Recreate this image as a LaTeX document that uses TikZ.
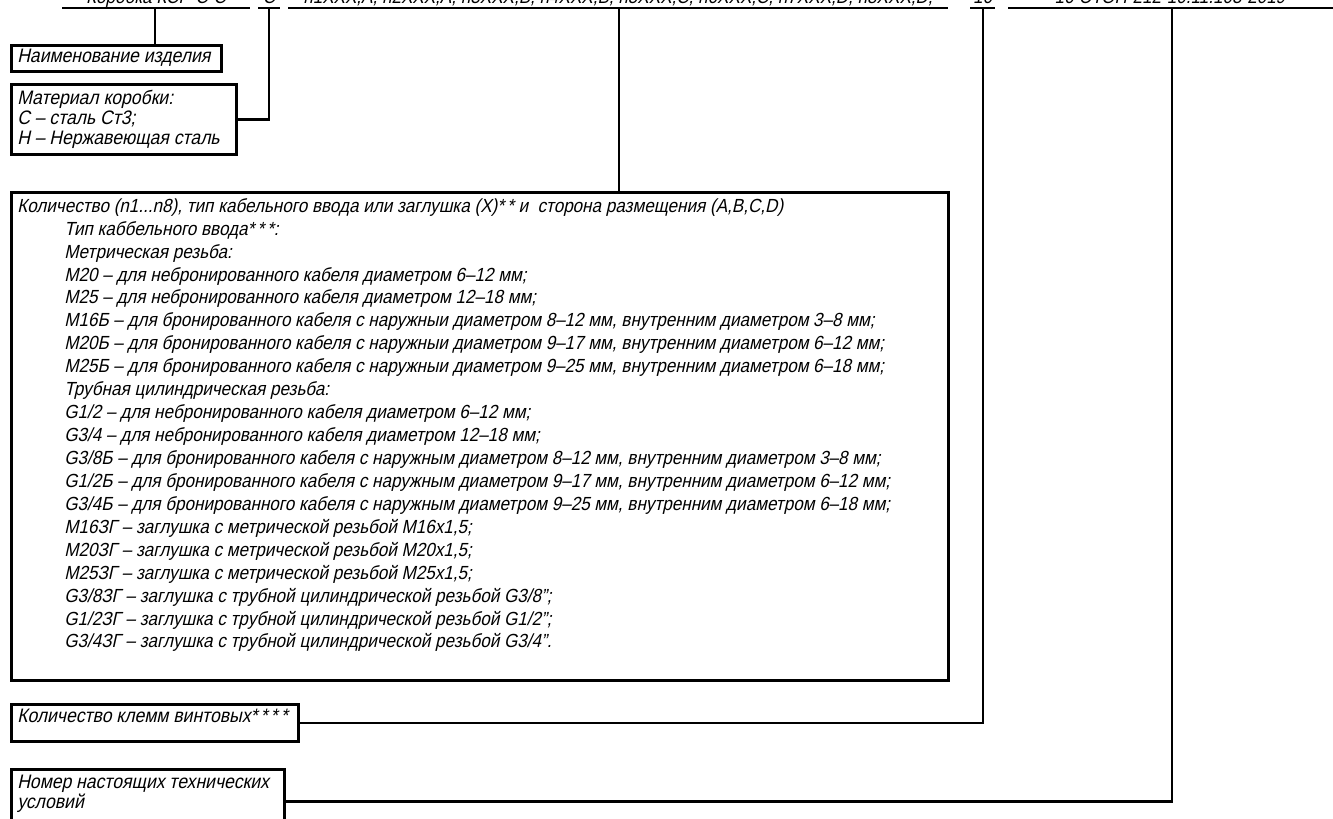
\documentclass[tikz,border=0pt]{standalone}
\usepackage{fontspec}
\setmainfont{Liberation Sans}[FakeSlant=0.22,FakeStretch=0.9]
\usetikzlibrary{positioning}
\newcommand{\indt}{\hspace*{9.4mm}}

\begin{document}
\begin{tikzpicture}[line width=1.5pt,font=\fontsize{10.8}{13.05}\selectfont,
box/.style={draw,line width=1.7pt,anchor=north west,inner sep=0pt},
txt/.style={anchor=north west,align=left,inner sep=0pt},
bigtxt/.style={txt,font=\fontsize{11.1}{11.4}\selectfont},
head/.style={anchor=base,inner sep=0pt}]
\useasboundingbox (0,0) rectangle (26.66,-16.38);
% designation line (cut at the sheet edge)
\node[head] (hname) at (3.12,-0.07) {Коробка КСР-С-С};
\node[head] (hmat) at (5.38,-0.07) {С};
\node[head] (hin) at (12.36,-0.07) {n1XXX,A, n2XXX,A, n3XXX,B, n4XXX,B, n5XXX,C, n6XXX,C, n7XXX,D, n8XXX,D,};
\node[head] (hcl) at (19.65,-0.07) {16};
\node[head] (htu) at (23.4,-0.07) {16-ЭТОН-212-10.11.103-2019};
\coordinate (u1a) at (1.24,-0.16); \coordinate (u1b) at (5,-0.16);
\coordinate (u2a) at (5.16,-0.16); \coordinate (u2b) at (5.6,-0.16);
\coordinate (u3a) at (5.76,-0.16); \coordinate (u3b) at (18.96,-0.16);
\coordinate (u4a) at (19.4,-0.16); \coordinate (u4b) at (19.9,-0.16);
\coordinate (u5a) at (20.16,-0.16); \coordinate (u5b) at (26.8,-0.16);
\draw (u1a)--(u1b); \draw (u2a)--(u2b); \draw (u3a)--(u3b); \draw (u4a)--(u4b); \draw (u5a)--(u5b);
\coordinate (t1) at (3.1,-0.16);
\coordinate (t2) at (5.38,-0.16);
\coordinate (t3) at (12.38,-0.16);
\coordinate (t4) at (19.66,-0.16);
\coordinate (t5) at (23.44,-0.16);
% boxes
\node[box,minimum width=4.2cm,minimum height=.52cm] (name) at (.2,-.88) {};
\node[bigtxt] at ([shift={(.12,-.08)}]name.north west) {Наименование изделия};
\node[box,minimum width=4.5cm,minimum height=1.4cm] (material) at (.2,-1.66) {};
\node[bigtxt] at ([shift={(.12,-.12)}]material.north west) {Материал коробки:\\С – сталь Ст3;\\Н – Нержавеющая сталь};
\node[box,minimum width=18.74cm,minimum height=9.76cm] (inputs) at (.2,-3.82) {};
\node[txt] at ([shift={(.12,-.12)}]inputs.north west) {Количество (n1...n8), тип кабельного ввода или заглушка (X)*\,* и\ \ сторона размещения (A,B,C,D)\\
\indt Тип каббельного ввода*\,*\,*:\\
\indt Метрическая резьба:\\
\indt М20 – для небронированного кабеля диаметром 6–12 мм;\\
\indt М25 – для небронированного кабеля диаметром 12–18 мм;\\
\indt М16Б – для бронированного кабеля с наружныи диаметром 8–12 мм, внутренним диаметром 3–8 мм;\\
\indt М20Б – для бронированного кабеля с наружныи диаметром 9–17 мм, внутренним диаметром 6–12 мм;\\
\indt М25Б – для бронированного кабеля с наружныи диаметром 9–25 мм, внутренним диаметром 6–18 мм;\\
\indt Трубная цилиндрическая резьба:\\
\indt G1/2 – для небронированного кабеля диаметром 6–12 мм;\\
\indt G3/4 – для небронированного кабеля диаметром 12–18 мм;\\
\indt G3/8Б – для бронированного кабеля с наружным диаметром 8–12 мм, внутренним диаметром 3–8 мм;\\
\indt G1/2Б – для бронированного кабеля с наружным диаметром 9–17 мм, внутренним диаметром 6–12 мм;\\
\indt G3/4Б – для бронированного кабеля с наружным диаметром 9–25 мм, внутренним диаметром 6–18 мм;\\
\indt М16ЗГ – заглушка с метрической резьбой М16х1,5;\\
\indt М20ЗГ – заглушка с метрической резьбой М20х1,5;\\
\indt М25ЗГ – заглушка с метрической резьбой М25х1,5;\\
\indt G3/8ЗГ – заглушка с трубной цилиндрической резьбой G3/8";\\
\indt G1/2ЗГ – заглушка с трубной цилиндрической резьбой G1/2";\\
\indt G3/4ЗГ – заглушка с трубной цилиндрической резьбой G3/4".};
\node[box,minimum width=5.74cm,minimum height=.74cm] (clamps) at (.2,-14.06) {};
\node[bigtxt] at ([shift={(.12,-.1)}]clamps.north west) {Количество клемм винтовых*\,*\,*\,*};
\node[box,minimum width=5.46cm,minimum height=1.28cm] (tu) at (.2,-15.36) {};
\node[bigtxt] at ([shift={(.12,-.12)}]tu.north west) {Номер настоящих технических\\условий};
% leaders
\draw (name.north -| t1)--(t1);
\draw (material.east) -| (t2);
\draw (inputs.north -| t3)--(t3);
\draw (clamps.east) -| (t4);
\draw (tu.east) -| (t5);
\end{tikzpicture}
\end{document}
